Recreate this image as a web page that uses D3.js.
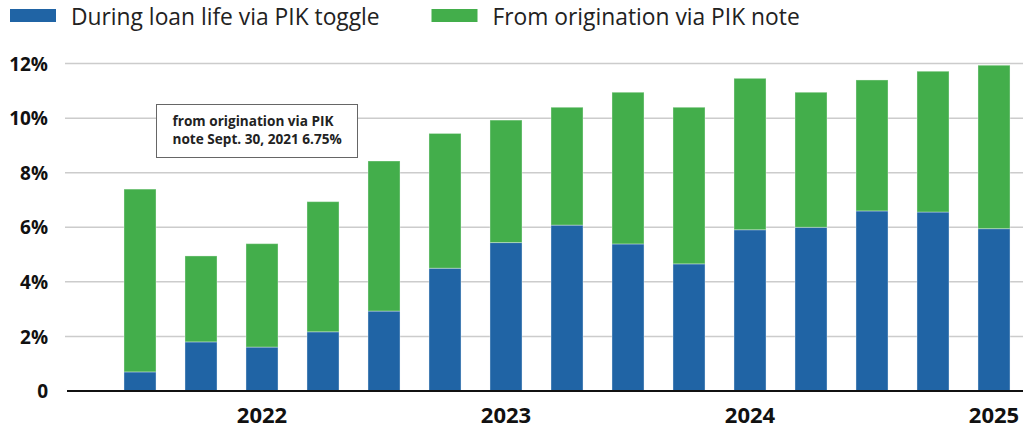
<!DOCTYPE html>
<html><head><meta charset="utf-8">
<script src="https://cdn.jsdelivr.net/npm/d3@7"></script>
<style>body{margin:0;background:#fff}svg{display:block}</style>
</head><body><svg id="c" width="1023" height="429"></svg>
<script>
const categories = ["Q3 2021","Q4 2021","Q1 2022","Q2 2022","Q3 2022","Q4 2022","Q1 2023","Q2 2023","Q3 2023","Q4 2023","Q1 2024","Q2 2024","Q3 2024","Q4 2024","Q1 2025"];
const toggleValues = [0.70,1.80,1.61,2.17,2.93,4.50,5.44,6.08,5.39,4.66,5.91,6.00,6.60,6.56,5.95];
const noteValues   = [6.70,3.15,3.79,4.77,5.50,4.94,4.49,4.32,5.56,5.74,5.55,4.95,4.80,5.16,5.99];
const seriesNames = ["During loan life via PIK toggle","From origination via PIK note"];
const yTicks = [0,2,4,6,8,10,12];
const xTickLabels = {"Q1 2022":"2022","Q1 2023":"2023","Q1 2024":"2024","Q1 2025":"2025"};
const annotationLines = ["from origination via PIK","note Sept. 30, 2021 6.75%"];

const colors = ["#2064a5","#43ae4b"];
const font = "'Open Sans', sans-serif";
const svg = d3.select("#c");

const x = d3.scaleBand().domain(categories).range([109.5,1024.5]).paddingInner(0.475).paddingOuter(0.2375);
const y = d3.scaleLinear().domain([0,12]).range([391,63.6]);

// gridlines
svg.append("g").selectAll("line").data(yTicks.filter(d=>d>0)).join("line")
  .attr("x1",65).attr("x2",1023).attr("y1",d=>y(d)).attr("y2",d=>y(d))
  .attr("stroke","#cccccc").attr("stroke-width",1.5);

// y labels
const yAxis = d3.axisLeft(y).tickValues(yTicks).tickSize(0).tickPadding(0)
  .tickFormat(d=>d===0?"0":d+"%");
const ya = svg.append("g").attr("transform","translate(48,0)").call(yAxis);
ya.select(".domain").remove();
ya.selectAll("text").attr("font-family",font).attr("font-weight","bold").attr("font-size",19).attr("fill","#111").attr("dy","0.35em");

// stacked bars
const rows = categories.map((c,i)=>({cat:c, a:toggleValues[i], b:noteValues[i]}));
const stack = d3.stack().keys(["a","b"])(rows);
svg.append("g").selectAll("g").data(stack).join("g")
  .attr("fill",(d,i)=>colors[i])
  .selectAll("rect").data(d=>d).join("rect")
  .attr("x",d=>x(d.data.cat)).attr("width",x.bandwidth())
  .attr("y",d=>y(d[1])).attr("height",d=>y(d[0])-y(d[1]))
  .attr("stroke","rgba(255,255,255,0.35)").attr("stroke-width",1);

// baseline
svg.append("line").attr("x1",67).attr("x2",1023).attr("y1",y(0)).attr("y2",y(0)).attr("stroke","#111").attr("stroke-width",2);

// x axis labels
const xAxis = d3.axisBottom(x).tickSize(0).tickPadding(0).tickValues(Object.keys(xTickLabels)).tickFormat(d=>xTickLabels[d]);
const xa = svg.append("g").attr("transform","translate(0,422.5)").call(xAxis);
xa.select(".domain").remove();
xa.selectAll("text").attr("font-family",font).attr("font-weight","bold").attr("font-size",22).attr("fill","#111").attr("dy",0).attr("y",0);

// legend
const leg = svg.append("g");
const legX = [10,431.5];
seriesNames.forEach((n,i)=>{
  leg.append("rect").attr("x",legX[i]).attr("y",9).attr("width",46).attr("height",13).attr("fill",colors[i]);
  leg.append("text").attr("x",legX[i]+61).attr("y",24.5).attr("font-family",font).attr("font-size",22.8).attr("fill","#222").text(n);
});

// annotation
const ann = svg.append("g");
ann.append("rect").attr("x",156.5).attr("y",104.5).attr("width",201).attr("height",53).attr("fill","#fff").attr("stroke","#666").attr("stroke-width",1);
ann.selectAll("text").data(annotationLines).join("text")
  .attr("x",172.5).attr("y",(d,i)=>126+i*17.5).attr("font-family",font).attr("font-weight","bold").attr("font-size",13.6).attr("fill","#222").text(d=>d);
</script></body></html>
